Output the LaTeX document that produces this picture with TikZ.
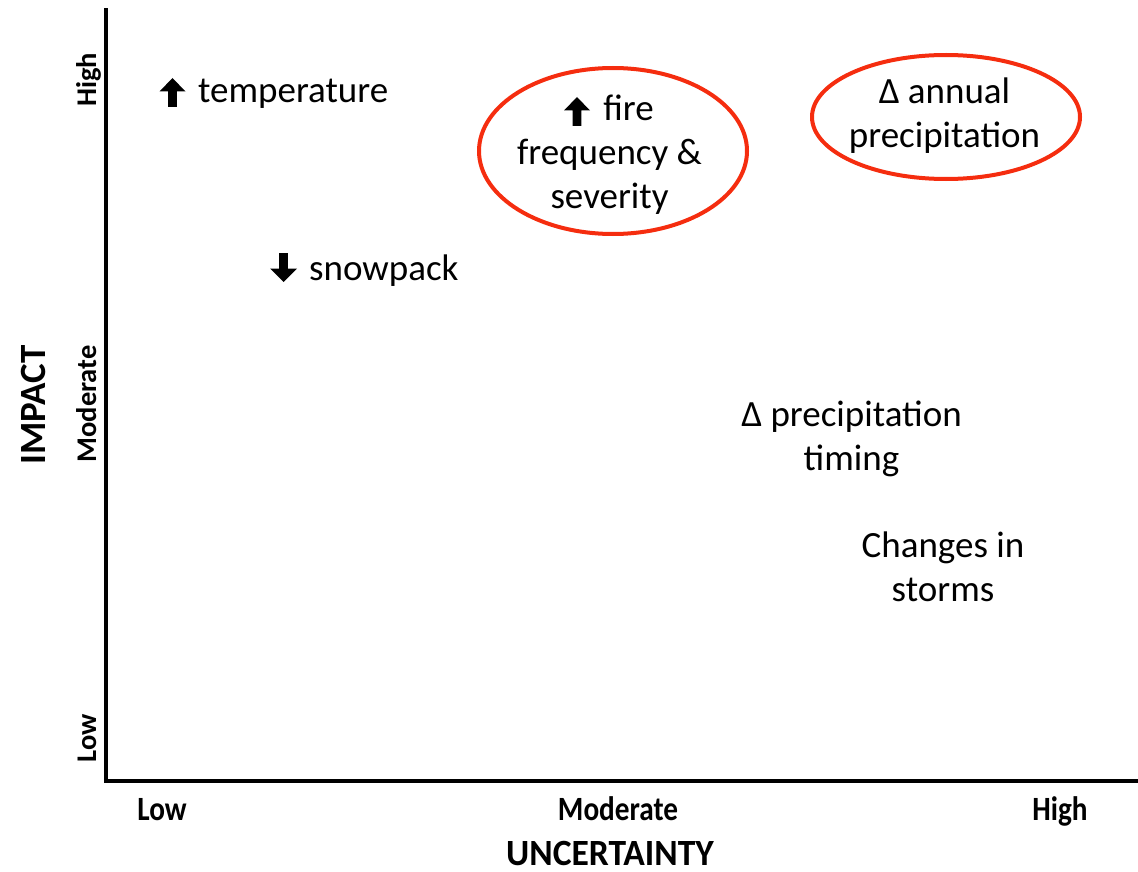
\documentclass[tikz,border=0pt]{standalone}
\usepackage{fontspec}
\setmainfont{Carlito}
\definecolor{ellred}{RGB}{245,45,15}
\begin{document}
\begin{tikzpicture}[x=1pt,y=-1pt,
  lbl/.style={font=\fontsize{37}{44}\selectfont, align=center, inner sep=0pt},
  ytick/.style={font=\bfseries\fontsize{28.5}{34}\selectfont, rotate=90, anchor=base, inner sep=0pt},
  xtick/.style={font=\bfseries\fontsize{34}{40}\selectfont, anchor=base, inner sep=0pt},
  axis/.style={line width=3.2pt, line cap=rect},
  ring/.style={draw=ellred, line width=4pt},
  uparr/.pic={\fill (0,0) -- (13,13.5) -- (4.3,13.5) -- (4.3,29) -- (-4.3,29) -- (-4.3,13.5) -- (-13,13.5) -- cycle;},
  dnarr/.pic={\fill (0,29) -- (13.5,15.5) -- (4.3,15.5) -- (4.3,0) -- (-4.3,0) -- (-4.3,15.5) -- (-13.5,15.5) -- cycle;}
]
\useasboundingbox (0,0) rectangle (1138,872);

% axes
\coordinate (ytop) at (106,10);
\coordinate (orig) at (106,781);
\coordinate (xend) at (1138,781);
\draw[axis] (ytop) -- (orig) -- (xend);

% y axis labels
\node[ytick] (yhigh) at (96,80) {High};
\node[ytick] (ymod) at (96,404) {Moderate};
\node[ytick] (ylow) at (96,738) {Low};
\node[font=\bfseries\fontsize{37}{44}\selectfont, rotate=90, anchor=base, inner sep=0pt] (impact) at (45,405) {IMPACT};

% x axis labels
\node[xtick] (xlow) at (162,820) {\scalebox{0.86}[1]{Low}};
\node[xtick] (xmod) at (618,820) {\scalebox{0.86}[1]{Moderate}};
\node[xtick] (xhigh) at (1060,820) {\scalebox{0.86}[1]{High}};
\node[font=\bfseries\fontsize{37}{44}\selectfont, anchor=base, inner sep=0pt] (uncert) at (610,865) {\scalebox{0.96}[1]{UNCERTAINTY}};

% items
\pic at (172.5,78) {uparr};
\node[lbl, anchor=base west] (temp) at (198,103) {temperature};

\pic at (283.5,253) {dnarr};
\node[lbl, anchor=base west] (snow) at (309,280) {snowpack};

\draw[ring] (613,151) ellipse [x radius=134, y radius=83];
\node[lbl] (fire) at (609.5,155) {\hspace*{38pt}fire\\frequency \&\\severity};
\pic at (577,97) {uparr};

\draw[ring] (946,117) ellipse [x radius=134, y radius=62];
\node[lbl] (annual) at (944.5,116) {Δ annual\\precipitation};

\node[lbl] (timing) at (851.5,438.5) {Δ precipitation\\timing};

\node[lbl] (storms) at (943,567) {Changes in\\storms};
\end{tikzpicture}
\end{document}
